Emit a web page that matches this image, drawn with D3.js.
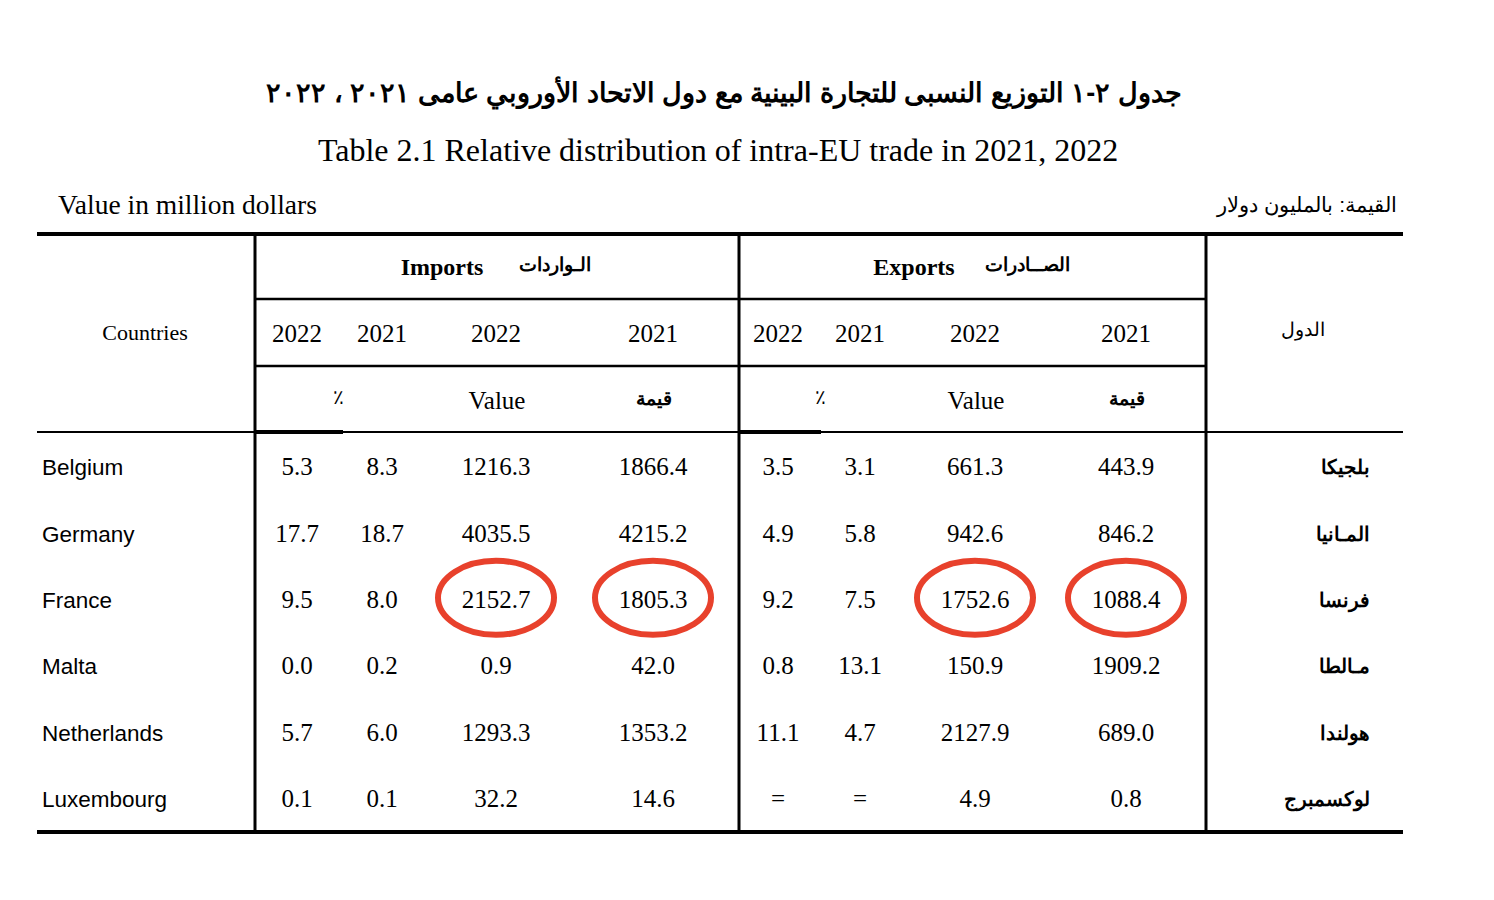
<!DOCTYPE html>
<html><head><meta charset="utf-8">
<script src="https://cdn.jsdelivr.net/npm/d3@7"></script>
<style>body{margin:0;background:#fff}</style>
</head><body>
<svg id="c" width="1494" height="900"></svg>
<script>
const countries = ["Belgium","Germany","France","Malta","Netherlands","Luxembourg"];
const countriesAr = ["بلجيكا","المـانيا","فرنسا","مـالطا","هولندا","لوكسمبرج"];
const impPct2022 = ["5.3","17.7","9.5","0.0","5.7","0.1"];
const impPct2021 = ["8.3","18.7","8.0","0.2","6.0","0.1"];
const impVal2022 = ["1216.3","4035.5","2152.7","0.9","1293.3","32.2"];
const impVal2021 = ["1866.4","4215.2","1805.3","42.0","1353.2","14.6"];
const expPct2022 = ["3.5","4.9","9.2","0.8","11.1","="];
const expPct2021 = ["3.1","5.8","7.5","13.1","4.7","="];
const expVal2022 = ["661.3","942.6","1752.6","150.9","2127.9","4.9"];
const expVal2021 = ["443.9","846.2","1088.4","1909.2","689.0","0.8"];
const yearLabels = ["2022","2021","2022","2021","2022","2021","2022","2021"];
const highlighted = ["France"];

const svg = d3.select("#c");
const serif = "'Liberation Serif','DejaVu Serif',serif";
const sans = "'Liberation Sans',Arial,sans-serif";
const cols = ["ip22","ip21","iv22","iv21","ep22","ep21","ev22","ev21"];
const x = d3.scaleOrdinal().domain(cols).range([297,382,496,653,778,860,975,1126]);
const y = d3.scaleBand().domain(countries).range([434,832]);
const series = [impPct2022,impPct2021,impVal2022,impVal2021,expPct2022,expPct2021,expVal2022,expVal2021];

svg.append("text").attr("x",724).attr("y",102).attr("text-anchor","middle").attr("direction","rtl")
  .attr("font-family",sans).attr("font-weight","bold").attr("font-size",27)
  .text("جدول ٢-١ التوزيع النسبى للتجارة البينية مع دول الاتحاد الأوروبي عامى ٢٠٢١ ، ٢٠٢٢");
svg.append("text").attr("x",718).attr("y",161).attr("text-anchor","middle")
  .attr("font-family",serif).attr("font-size",32).text("Table 2.1 Relative distribution of intra-EU trade in 2021, 2022");
svg.append("text").attr("x",58).attr("y",214).attr("font-family",serif).attr("font-size",27.5).text("Value in million dollars");
svg.append("text").attr("x",1397).attr("y",212).attr("text-anchor","start").attr("direction","rtl")
  .attr("font-family",sans).attr("font-size",21).text("القيمة: بالمليون دولار");

const L=(x1,y1,x2,y2,w)=>svg.append("line").attr("x1",x1).attr("y1",y1).attr("x2",x2).attr("y2",y2).attr("stroke","#000").attr("stroke-width",w);
L(37,234,1403,234,4);
L(37,832,1403,832,4);
[255,739,1206].forEach(v=>L(v,232,v,834,3));
L(255,299,1206,299,2.5);
L(255,366,1206,366,2.5);
L(37,432,1403,432,2);
L(255,432,343,432,4);L(739,432,821,432,4);

const T=(xx,yy,t,opt={})=>svg.append("text").attr("x",xx).attr("y",yy).attr("text-anchor",opt.anchor||"middle")
  .attr("font-family",opt.font||serif).attr("font-size",opt.size||25).attr("font-weight",opt.bold?"bold":"normal")
  .attr("direction",opt.rtl?"rtl":"ltr").text(t);
T(442,275,"Imports",{bold:true,size:24});
T(555,271,"الـواردات",{font:sans,size:19,bold:true});
T(914,275,"Exports",{bold:true,size:24});
T(1027,271,"الصــادرات",{font:sans,size:19,bold:true});
T(145,340,"Countries",{size:22});
T(1303,336,"الدول",{font:sans,size:19});
cols.forEach((c,i)=>T(x(c),342,yearLabels[i]));
T(338,404,"٪",{font:sans,size:20});T(820,404,"٪",{font:sans,size:20});
T(497,409,"Value");T(976,409,"Value");
T(654,405,"قيمة",{font:sans,size:19,bold:true});T(1127,405,"قيمة",{font:sans,size:19,bold:true});

countries.forEach((c,r)=>{
  const cy=y(c)+y.bandwidth()/2;
  T(42,cy+8,c,{font:sans,size:22.5,anchor:"start"});
  svg.append("text").attr("x",1370).attr("y",cy+7).attr("text-anchor","start").attr("direction","rtl")
    .attr("font-family",sans).attr("font-weight","bold").attr("font-size",20).text(countriesAr[r]);
  cols.forEach((k,i)=>T(x(k),cy+8,series[i][r]));
});
highlighted.forEach(c=>{
  const cy=y(c)+y.bandwidth()/2-2;
  ["iv22","iv21","ev22","ev21"].forEach(k=>svg.append("ellipse").attr("cx",x(k)).attr("cy",cy)
    .attr("rx",58).attr("ry",37).attr("fill","none").attr("stroke","#e8412c").attr("stroke-width",6));
});
</script>
</body></html>
